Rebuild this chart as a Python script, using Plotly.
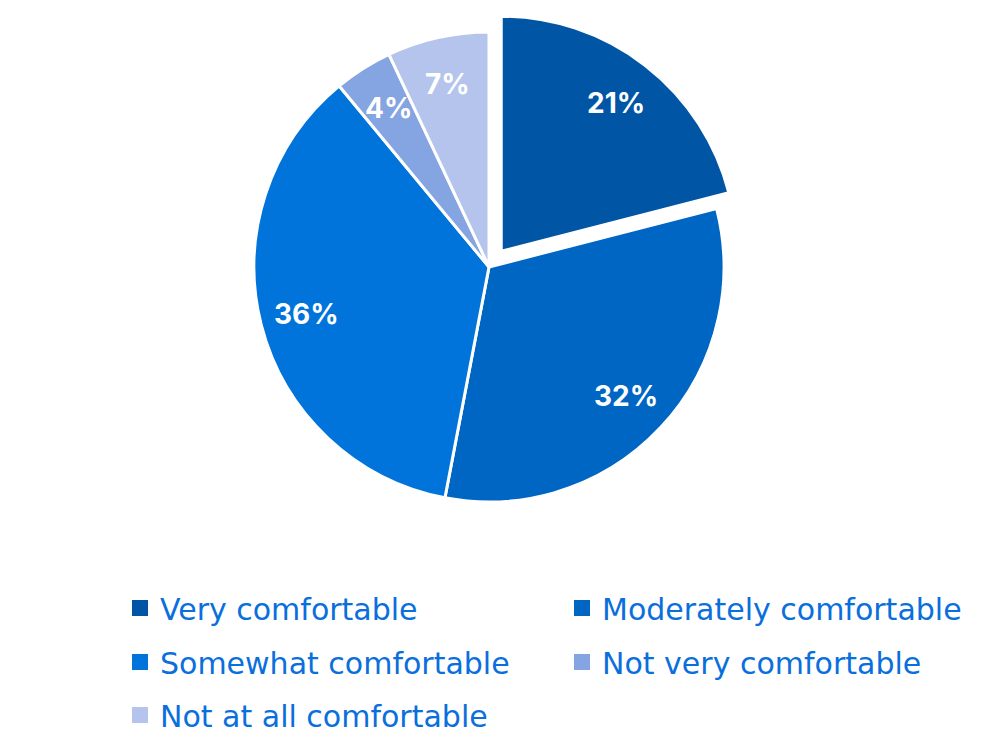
import math
import plotly.graph_objects as go

# Survey answers, in drawing order (clockwise from 12 o'clock)
categories = ["Very comfortable", "Moderately comfortable", "Somewhat comfortable",
              "Not very comfortable", "Not at all comfortable"]
shares = [21, 32, 36, 4, 7]
slice_colors = ["#0055A5", "#0066C4", "#0074DA", "#84A4E2", "#B4C4EC"]
pulls = [0.085, 0, 0, 0, 0]

W, H = 983, 737
LABEL_FONT = "Inter"
LEGEND_FONT = "DejaVu Sans"
TEXT_BLUE = "#0A6FDC"

# pie placement in pixels
cx, cy, radius = 489, 267, 235
half = radius * (1 + max(pulls))

fig = go.Figure(go.Pie(
    labels=categories,
    values=shares,
    sort=False,
    direction="clockwise",
    rotation=0,
    pull=pulls,
    marker=dict(colors=slice_colors, line=dict(color="white", width=3)),
    textinfo="none",
    hoverinfo="label+percent",
    showlegend=False,
    domain=dict(x=[(cx - half) / W, (cx + half) / W],
                y=[1 - (cy + half) / H, 1 - (cy - half) / H]),
))

# percentage labels placed at each slice's mid-angle
total = sum(shares)
acc = 0
annotations = []
for v, p in zip(shares, pulls):
    mid = (acc + v / 2) / total * 2 * math.pi
    acc += v
    rr = radius * (0.8 + p)
    px = cx + rr * math.sin(mid)
    py = cy - rr * math.cos(mid)
    annotations.append(dict(
        x=px / W, y=1 - py / H, xref="paper", yref="paper",
        xanchor="center", yanchor="middle",
        text=f"<b>{round(v / total * 100)}%</b>", showarrow=False,
        font=dict(family=LABEL_FONT, size=28, weight=800, color="white"),
    ))

# legend: two entries per row, square swatches in the slice colours
row_of = [0, 0, 1, 1, 2]
row_centers = [608, 662, 715]
legend_ids = ["legend", "legend2", "legend3"]
for name, color, row in zip(categories, slice_colors, row_of):
    fig.add_trace(go.Scatter(
        x=[None], y=[None], mode="markers", name=name,
        marker=dict(symbol="square", size=16, color=color),
        legend=legend_ids[row], hoverinfo="skip",
    ))

legend_style = dict(
    orientation="h",
    x=120 / W, xanchor="left",
    yanchor="middle",
    entrywidth=397, entrywidthmode="pixels",
    font=dict(family=LEGEND_FONT, size=30, color=TEXT_BLUE),
    traceorder="normal",
    bgcolor="rgba(0,0,0,0)",
    itemclick=False, itemdoubleclick=False,
)
legend_layout = {lid: dict(legend_style, y=1 - yc / H)
                 for lid, yc in zip(legend_ids, row_centers)}

fig.update_layout(
    width=W, height=H,
    margin=dict(l=0, r=0, t=0, b=0, autoexpand=False),
    paper_bgcolor="white",
    plot_bgcolor="white",
    xaxis=dict(visible=False),
    yaxis=dict(visible=False),
    annotations=annotations,
    **legend_layout,
)

fig.write_html("out.html")
